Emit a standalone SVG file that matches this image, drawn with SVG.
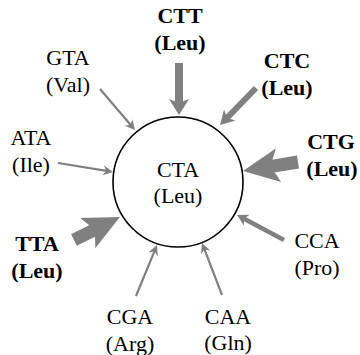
<svg xmlns="http://www.w3.org/2000/svg" width="360" height="355" viewBox="0 0 360 355">
<style>
text{font-family:"Liberation Serif","Times New Roman",serif;font-size:22px;fill:#000;text-anchor:middle}
.b{font-weight:bold}
.a{stroke:#808080;fill:none}
.h{fill:#808080;stroke:none}
</style>
<defs>
<marker id="mXL" markerUnits="userSpaceOnUse" orient="auto" refX="0" refY="0" markerWidth="1" markerHeight="1" overflow="visible"><path class="h" d="M20,0 L-16,-17 L-8,0 L-16,17 Z"/></marker>
<marker id="mL" markerUnits="userSpaceOnUse" orient="auto" refX="0" refY="0" markerWidth="1" markerHeight="1" overflow="visible"><path class="h" d="M10,0 L-6,-10 L-2,0 L-6,10 Z"/></marker>
<marker id="mM" markerUnits="userSpaceOnUse" orient="auto" refX="0" refY="0" markerWidth="1" markerHeight="1" overflow="visible"><path class="h" d="M8,0 L-6,-8 L-2,0 L-6,8 Z"/></marker>
<marker id="mS" markerUnits="userSpaceOnUse" orient="auto" refX="0" refY="0" markerWidth="1" markerHeight="1" overflow="visible"><path class="h" d="M6,0 L-5,-6 L-2,0 L-5,6 Z"/></marker>
<marker id="mT" markerUnits="userSpaceOnUse" orient="auto" refX="0" refY="0" markerWidth="1" markerHeight="1" overflow="visible"><path class="h" d="M5,0 L-5,-5 L-2,0 L-5,5 Z"/></marker>
</defs>
<g id="connectors">
<line class="a" stroke-width="8" x1="179" y1="63" x2="179" y2="105" marker-end="url(#mL)"/>
<line class="a" stroke-width="6" x1="256" y1="88" x2="225.6" y2="119.3" marker-end="url(#mM)"/>
<line class="a" stroke-width="13" x1="298" y1="162" x2="262.7" y2="167.8" marker-end="url(#mXL)"/>
<line class="a" stroke-width="13" x1="74" y1="240" x2="102" y2="226" marker-end="url(#mXL)"/>
<line class="a" stroke-width="2.2" x1="100" y1="89" x2="131.8" y2="126.2" marker-end="url(#mT)"/>
<line class="a" stroke-width="2.2" x1="58" y1="163" x2="108.1" y2="171.2" marker-end="url(#mT)"/>
<line class="a" stroke-width="2.2" x1="136" y1="296" x2="155.1" y2="249.6" marker-end="url(#mT)"/>
<line class="a" stroke-width="2.2" x1="222" y1="295" x2="203.8" y2="247.7" marker-end="url(#mT)"/>
<line class="a" stroke-width="4.5" x1="284" y1="240" x2="242.3" y2="217.8" marker-end="url(#mS)"/>
</g>
<g id="CTA">
<circle cx="178" cy="182" r="65" fill="#fff" stroke="#000" stroke-width="1.6"/>
<text x="178" y="177">CTA</text>
<text x="178" y="203">(Leu)</text>
</g>
<g id="CTT"><text class="b" x="180" y="23">CTT</text><text class="b" x="180" y="50">(Leu)</text></g>
<g id="GTA"><text x="68" y="65">GTA</text><text x="68" y="92">(Val)</text></g>
<g id="CTC"><text class="b" x="287" y="68">CTC</text><text class="b" x="287" y="95">(Leu)</text></g>
<g id="ATA"><text x="31" y="145">ATA</text><text x="31" y="172">(Ile)</text></g>
<g id="CTG"><text class="b" x="331" y="149">CTG</text><text class="b" x="332" y="176">(Leu)</text></g>
<g id="TTA"><text class="b" x="37" y="251">TTA</text><text class="b" x="37" y="278">(Leu)</text></g>
<g id="CGA"><text x="130" y="324">CGA</text><text x="130" y="351">(Arg)</text></g>
<g id="CAA"><text x="228" y="324">CAA</text><text x="228" y="350">(Gln)</text></g>
<g id="CCA"><text x="317" y="248">CCA</text><text x="317" y="275">(Pro)</text></g>
</svg>
